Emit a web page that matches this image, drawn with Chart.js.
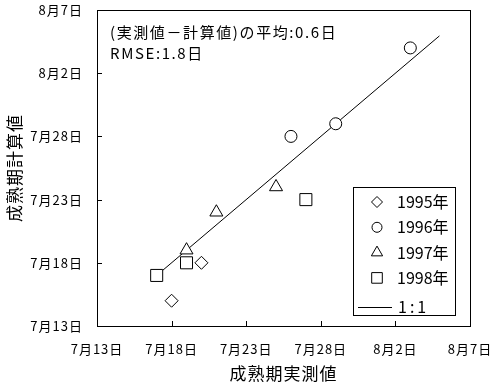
<!DOCTYPE html>
<html>
<head>
<meta charset="utf-8">
<script src="https://cdn.jsdelivr.net/npm/chart.js@4"></script>
<style>
  html, body { margin: 0; padding: 0; background: #fff; }
</style>
</head>
<body>
<canvas id="myChart" width="496" height="386"></canvas>
<script>
'use strict';

//data (x and y are days after 7月13日)

const tickLabels = ['7月13日', '7月18日', '7月23日', '7月28日', '8月2日', '8月7日'];
const years = ['1995年', '1996年', '1997年', '1998年'];
const observed1995 = [5, 7];
const calculated1995 = [2, 5];
const observed1996 = [13, 16, 21];
const calculated1996 = [15, 16, 22];
const observed1997 = [6, 8, 12];
const calculated1997 = [6, 9, 11];
const observed1998 = [4, 6, 14];
const calculated1998 = [4, 5, 10];
const oneToOne = [4.4, 22.95];
const noteLines = ['(実測値－計算値)の平均:0.6日', 'RMSE:1.8日'];

const FONT = '"Noto Sans CJK JP", "Noto Sans", sans-serif';

//helpers

function pairs(xs, ys) {
  const out = [];
  for(let i = 0; i < xs.length; i++) {
    out.push({x: xs[i], y: ys[i]});
  }
  return out;
}

function symbolSet(label, xs, ys, style, radius) {
  return {
    label: label,
    data: pairs(xs, ys),
    pointStyle: style,
    pointRadius: radius,
    pointHoverRadius: radius,
    pointBorderWidth: 1,
    borderColor: '#000',
    backgroundColor: '#fff',
    showLine: false
  };
}

//plugin: box, inward ticks, note text, legend
const extras = {
  id: 'extras',
  beforeDraw(chart) {
    //wider axis text, like the original
    chart.ctx.letterSpacing = '1px';
  },
  afterDraw(chart) {
    const ctx = chart.ctx;
    const area = chart.chartArea;
    const xs = chart.scales.x;
    const ys = chart.scales.y;
    ctx.save();
    ctx.strokeStyle = '#000';
    ctx.lineWidth = 1;
    ctx.strokeRect(Math.round(area.left) + 0.5, Math.round(area.top) + 0.5,
      Math.round(area.right - area.left), Math.round(area.bottom - area.top));

    //inward tick marks
    ctx.beginPath();
    for(let v = 5; v < 25; v += 5) {
      const px = Math.round(xs.getPixelForValue(v)) + 0.5;
      ctx.moveTo(px, area.bottom);
      ctx.lineTo(px, area.bottom - 5);
      const py = Math.round(ys.getPixelForValue(v)) + 0.5;
      ctx.moveTo(area.left, py);
      ctx.lineTo(area.left + 5, py);
    }
    ctx.stroke();

    //note
    ctx.fillStyle = '#000';
    ctx.font = '15px ' + FONT;
    ctx.letterSpacing = '1.6px';
    ctx.textBaseline = 'middle';
    ctx.textAlign = 'left';
    ctx.fillText(noteLines[0], 110, 32);
    ctx.fillText(noteLines[1], 110, 53);
    ctx.letterSpacing = '0px';

    //legend
    const box = {left: 353.5, top: 187.5, width: 102, height: 128};
    ctx.strokeRect(box.left, box.top, box.width, box.height);
    ctx.font = '16px ' + FONT;
    const symbols = chart.data.datasets.slice(0, 4);
    for(let i = 0; i < symbols.length; i++) {
      const yy = 202 + i * 25.3;
      const ds = symbols[i];
      const opts = {pointStyle: ds.pointStyle, radius: ds.pointRadius - 1, rotation: 0, borderWidth: 1};
      ctx.fillStyle = '#fff';
      ctx.strokeStyle = '#000';
      Chart.helpers.drawPoint(ctx, opts, 377, yy);
      ctx.fillStyle = '#000';
      ctx.fillText(ds.label, 397, yy);
    }
    const ly = 307;
    ctx.beginPath();
    ctx.moveTo(358, ly + 0.5);
    ctx.lineTo(392, ly + 0.5);
    ctx.stroke();
    ctx.letterSpacing = '3px';
    ctx.fillText('1:1', 398, ly);
    ctx.restore();
  }
};

const axisBase = {
  type: 'linear',
  min: 0,
  max: 25,
  grid: {display: false, drawTicks: false},
  border: {display: true, color: '#000', width: 1},
  ticks: {
    stepSize: 5,
    color: '#000',
    font: {family: FONT, size: 13},
    callback: function(value) {
      return tickLabels[value / 5];
    }
  }
};

const config = {
  type: 'scatter',
  data: {
    datasets: [
      symbolSet(years[0], observed1995, calculated1995, 'rectRot', 6.5),
      symbolSet(years[1], observed1996, calculated1996, 'circle', 6),
      symbolSet(years[2], observed1997, calculated1997, 'triangle', 7.5),
      symbolSet(years[3], observed1998, calculated1998, 'rect', 8.5),
      {
        type: 'line',
        label: '1:1',
        data: pairs(oneToOne, oneToOne),
        borderColor: '#000',
        borderWidth: 1,
        pointRadius: 0,
        showLine: true
      }
    ]
  },
  options: {
    responsive: false,
    animation: false,
    layout: {padding: {left: 0, top: 10, right: 26, bottom: 0}},
    plugins: {legend: {display: false}, tooltip: {enabled: false}},
    scales: {
      x: Object.assign({}, axisBase, {
        position: 'bottom',
        ticks: Object.assign({}, axisBase.ticks, {padding: 15}),
        title: {display: true, text: '成熟期実測値', color: '#000', font: {family: FONT, size: 17}, padding: {top: 0, bottom: 2}},
        afterFit(scale) {
          scale.height = 60;
          scale.paddingLeft = 0;
          scale.paddingRight = 0;
        }
      }),
      y: Object.assign({}, axisBase, {
        position: 'left',
        ticks: Object.assign({}, axisBase.ticks, {padding: 14}),
        title: {display: true, text: '成熟期計算値', color: '#000', font: {family: FONT, size: 17}, padding: {top: 4, bottom: 0}},
        afterFit(scale) {
          scale.width = 97;
          scale.paddingTop = 0;
          scale.paddingBottom = 0;
        }
      })
    }
  },
  plugins: [extras]
};

let myChart = new Chart(document.getElementById('myChart'), config);
</script>
</body>
</html>
